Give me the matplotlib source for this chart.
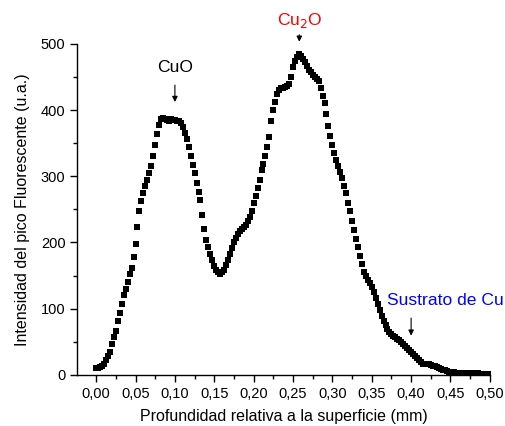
import matplotlib
matplotlib.use('Agg')
import matplotlib.pyplot as plt
from matplotlib.ticker import MultipleLocator, FuncFormatter
import numpy as np

plt.rcParams['font.family'] = ['Liberation Sans', 'DejaVu Sans']

# profundidad (mm), paso 0.0025
depth = np.arange(201) * 0.0025
# intensidad
intensity = [
    10, 11, 12, 14, 17, 22, 28, 35, 46, 57,
    67, 81, 93, 107, 120, 130, 141, 152, 162, 178,
    198, 224, 247, 262, 274, 286, 294, 305, 315, 330,
    348, 364, 378, 386, 388, 387, 385, 384, 386, 385,
    385, 384, 383, 380, 374, 366, 357, 344, 330, 317,
    305, 290, 277, 264, 241, 221, 204, 193, 183, 173,
    165, 159, 155, 153, 155, 159, 166, 174, 182, 191,
    200, 207, 213, 218, 221, 223, 226, 232, 238, 247,
    259, 270, 282, 294, 309, 318, 331, 344, 360, 383,
    400, 412, 424, 431, 433, 434, 435, 436, 440, 450,
    465, 474, 480, 484, 482, 477, 472, 467, 461, 457,
    453, 450, 447, 444, 434, 422, 411, 394, 376, 361,
    347, 335, 325, 315, 306, 297, 286, 274, 260, 247,
    233, 219, 206, 193, 180, 167, 156, 149, 144, 139,
    132, 125, 116, 107, 98, 89, 82, 75, 69, 65,
    62, 59, 57, 54, 52, 49, 47, 44, 41, 38,
    35, 32, 29, 26, 22, 19, 17, 17, 16, 16,
    15, 14, 13, 12, 11, 9, 8, 7, 6, 5,
    4, 4, 4, 3.5, 3.5, 3, 3, 3, 3, 3,
    3, 2.5, 2.5, 2.5, 2.5, 2, 2, 2, 2, 1.5,
    1.5,
]

fig = plt.figure(figsize=(5.05, 4.26), dpi=100)
ax = fig.add_axes([0.153, 0.12, 0.817, 0.777])

ax.plot(depth, intensity, 's', color='black', markersize=4.2, markeredgewidth=0)

ax.set_xlim(-0.024, 0.5)
ax.set_ylim(0, 500)
ax.xaxis.set_major_locator(MultipleLocator(0.05))
ax.xaxis.set_minor_locator(MultipleLocator(0.025))
ax.yaxis.set_major_locator(MultipleLocator(100))
ax.yaxis.set_minor_locator(MultipleLocator(50))
ax.xaxis.set_major_formatter(FuncFormatter(lambda v, p: f'{v:.2f}'.replace('.', ',')))
ax.tick_params(which='major', direction='out', length=5, width=1, labelsize=10.5)
ax.tick_params(which='minor', direction='out', length=3, width=1)
for s in ('top', 'right'):
    ax.spines[s].set_visible(False)
for s in ('left', 'bottom'):
    ax.spines[s].set_linewidth(1)

ax.set_xlabel('Profundidad relativa a la superficie (mm)', fontsize=11.5, labelpad=6)
ax.set_ylabel('Intensidad del pico Fluorescente (u.a.)', fontsize=11.5, labelpad=8)

arrow = dict(arrowstyle='-|>', color='black', lw=0.8, mutation_scale=8)
ax.annotate('', xy=(0.10, 408), xytext=(0.10, 442), arrowprops=arrow)
ax.text(0.10, 464, 'CuO', ha='center', va='center', fontsize=12.6, color='black')

ax.annotate('', xy=(0.258, 499), xytext=(0.258, 518), arrowprops=arrow,
            annotation_clip=False)
ax.text(0.258, 536, 'Cu$_2$O', ha='center', va='center', fontsize=12.6, color='red',
        clip_on=False)

ax.annotate('', xy=(0.40, 55), xytext=(0.40, 90), arrowprops=arrow)
ax.text(0.370, 113, 'Sustrato de Cu', ha='left', va='center', fontsize=12.6,
        color='blue', clip_on=False)

fig.savefig('out.png', dpi=100)
